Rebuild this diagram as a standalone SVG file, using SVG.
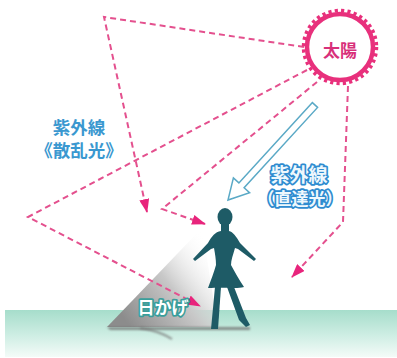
<svg xmlns="http://www.w3.org/2000/svg" width="397" height="358" viewBox="0 0 397 358">
  <defs>
    <style>
      .ray { fill: none; stroke: #e4508e; stroke-width: 2; stroke-dasharray: 6 4; marker-end: url(#head); }
      .jp { font-family: "Noto Sans CJK JP", "Noto Sans", sans-serif; font-weight: bold; }
      .blue { fill: #3a98d0; }
      .halo { fill: none; stroke: #ffffff; stroke-width: 7; stroke-linejoin: round; }
      .outline-blue { fill: #eef8fd; stroke: #2f8cd0; stroke-width: 3.5; paint-order: stroke; stroke-linejoin: round; }
      .outline-teal { fill: #ffffff; stroke: #3a9e9b; stroke-width: 3.5; paint-order: stroke; stroke-linejoin: round; }
      .figure { fill: #1e5b66; }
    </style>
    <marker id="head" viewBox="0 0 14 10" refX="13" refY="5" markerWidth="14" markerHeight="10" markerUnits="userSpaceOnUse" orient="auto">
      <path d="M0,0 L14,5 L0,10 Z" fill="#e8247c"/>
    </marker>
    <linearGradient id="groundFill" x1="0" y1="0" x2="0" y2="1">
      <stop offset="0" stop-color="#a6ddcb"/>
      <stop offset="0.55" stop-color="#cfeee4"/>
      <stop offset="1" stop-color="#f4fbf8"/>
    </linearGradient>
    <linearGradient id="shadeFill" gradientUnits="userSpaceOnUse" x1="125" y1="320" x2="215" y2="250">
      <stop offset="0" stop-color="#8c8c8c"/>
      <stop offset="0.5" stop-color="#c8c8c8"/>
      <stop offset="1" stop-color="#ffffff" stop-opacity="0"/>
    </linearGradient>
    <filter id="soft" x="-20%" y="-50%" width="140%" height="200%">
      <feGaussianBlur stdDeviation="1.2"/>
    </filter>
  </defs>

  <rect width="397" height="358" fill="#ffffff"/>

  <!-- ground -->
  <g id="ground">
    <rect x="5" y="310" width="392" height="47" fill="url(#groundFill)"/>
  </g>

  <!-- shaded area behind the walker -->
  <g id="shade">
    <polygon points="202,228 107,327 218,327" fill="url(#shadeFill)"/>
    <path d="M107,327 L250,327 L250,330 L110,330 Z" fill="#6f6f6f" opacity="0.75" filter="url(#soft)"/>
    <path d="M140,328 Q160,331 172,339" fill="none" stroke="#777777" stroke-width="2" opacity="0.8" filter="url(#soft)"/>
  </g>

  <!-- connectors: scattered and reflected rays -->
  <g id="connectors">
    <path class="ray" d="M304,47 L104,17 L147,212"/>
    <path class="ray" d="M307,70 L28,217 L200,306"/>
    <path class="ray" d="M317,82 L162,209 L205,224"/>
    <path class="ray" d="M348,86 L343,222 L292,277"/>
    <!-- direct ray -->
    <polygon points="312.4,102.6 238.9,182.9 233.4,177.9 228,200 249.6,192.7 244.1,187.7 317.6,107.4" fill="#ffffff" stroke="#5aa9c6" stroke-width="1.5" stroke-linejoin="miter"/>
  </g>

  <!-- sun -->
  <g id="sun">
    <circle cx="340" cy="47" r="36.5" fill="none" stroke="#e8307c" stroke-width="3.5" stroke-dasharray="3.2 3.2"/>
    <circle cx="340" cy="47" r="33" fill="#ffffff" stroke="#e8307c" stroke-width="4.5"/>
    <text class="jp" x="340" y="57" font-size="17" fill="#d8307a" text-anchor="middle">太陽</text>
  </g>

  <!-- scattered UV label -->
  <g id="label-scattered">
    <text class="jp blue" x="79" y="134" font-size="17.5" text-anchor="middle">紫外線</text>
    <text class="jp blue" x="79" y="157" font-size="17.5" text-anchor="middle">《散乱光》</text>
  </g>

  <!-- direct UV label -->
  <g id="label-direct">
    <text class="jp halo" x="299" y="182" font-size="19" text-anchor="middle">紫外線</text>
    <text class="jp halo" x="300" y="205" font-size="17" text-anchor="middle">（直達光）</text>
    <text class="jp outline-blue" x="299" y="182" font-size="19" text-anchor="middle">紫外線</text>
    <text class="jp outline-blue" x="300" y="205" font-size="17" text-anchor="middle">（直達光）</text>
  </g>

  <!-- walking figure -->
  <g id="walker">
    <ellipse class="figure" cx="225" cy="217" rx="7.5" ry="9"/>
    <path class="figure" d="M221,224 L229,224 L229,231
      C233,232 236,236 240,243 L256,259 L254,261 L238,249 L235,248
      C233,255 231,260 231,265
      C235,272 239,280 244,287
      C236,289 228,287 208,288
      C211,280 214,272 216,265
      C216,259 215,254 214,248 L211,249 L195,261 L193,259 L208,243
      C212,236 215,232 221,231 Z"/>
    <path class="figure" d="M215,287 L221,287 L218,329 L211,329 Z"/>
    <path class="figure" d="M227,287 L234,287 L246,318 L250,325 L246,327 L239,320 Z"/>
  </g>

  <!-- shade label -->
  <g id="label-shade">
    <text class="jp outline-teal" x="163" y="314" font-size="17" text-anchor="middle">日かげ</text>
  </g>
</svg>
